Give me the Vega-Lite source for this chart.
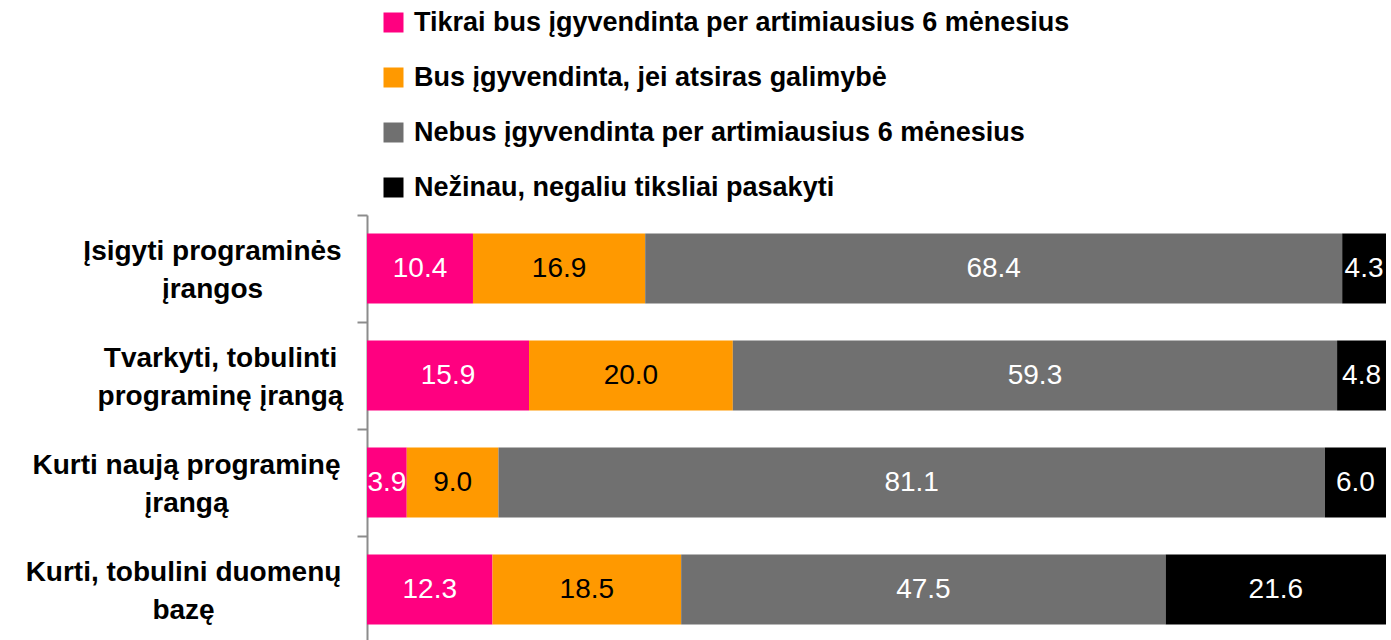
{
  "$schema": "https://vega.github.io/schema/vega-lite/v6.json",
  "autosize": {"type": "none"},
  "width": 1019,
  "height": 428,
  "padding": {"left": 367, "top": 215, "right": 5, "bottom": 0},
  "background": "white",
  "config": {"view": {"stroke": null}, "font": "Liberation Sans"},
  "data": {
    "values": [
      {"sritis": "Įsigyti programinės įrangos", "atsakymas": "Tikrai bus įgyvendinta per artimiausius 6 mėnesius", "nr": 1, "reiksme": 10.4},
      {"sritis": "Įsigyti programinės įrangos", "atsakymas": "Bus įgyvendinta, jei atsiras galimybė", "nr": 2, "reiksme": 16.9},
      {"sritis": "Įsigyti programinės įrangos", "atsakymas": "Nebus įgyvendinta per artimiausius 6 mėnesius", "nr": 3, "reiksme": 68.4},
      {"sritis": "Įsigyti programinės įrangos", "atsakymas": "Nežinau, negaliu tiksliai pasakyti", "nr": 4, "reiksme": 4.3},
      {"sritis": "Tvarkyti, tobulinti programinę įrangą", "atsakymas": "Tikrai bus įgyvendinta per artimiausius 6 mėnesius", "nr": 1, "reiksme": 15.9},
      {"sritis": "Tvarkyti, tobulinti programinę įrangą", "atsakymas": "Bus įgyvendinta, jei atsiras galimybė", "nr": 2, "reiksme": 20.0},
      {"sritis": "Tvarkyti, tobulinti programinę įrangą", "atsakymas": "Nebus įgyvendinta per artimiausius 6 mėnesius", "nr": 3, "reiksme": 59.3},
      {"sritis": "Tvarkyti, tobulinti programinę įrangą", "atsakymas": "Nežinau, negaliu tiksliai pasakyti", "nr": 4, "reiksme": 4.8},
      {"sritis": "Kurti naują programinę įrangą", "atsakymas": "Tikrai bus įgyvendinta per artimiausius 6 mėnesius", "nr": 1, "reiksme": 3.9},
      {"sritis": "Kurti naują programinę įrangą", "atsakymas": "Bus įgyvendinta, jei atsiras galimybė", "nr": 2, "reiksme": 9.0},
      {"sritis": "Kurti naują programinę įrangą", "atsakymas": "Nebus įgyvendinta per artimiausius 6 mėnesius", "nr": 3, "reiksme": 81.1},
      {"sritis": "Kurti naują programinę įrangą", "atsakymas": "Nežinau, negaliu tiksliai pasakyti", "nr": 4, "reiksme": 6.0},
      {"sritis": "Kurti, tobulini duomenų bazę", "atsakymas": "Tikrai bus įgyvendinta per artimiausius 6 mėnesius", "nr": 1, "reiksme": 12.3},
      {"sritis": "Kurti, tobulini duomenų bazę", "atsakymas": "Bus įgyvendinta, jei atsiras galimybė", "nr": 2, "reiksme": 18.5},
      {"sritis": "Kurti, tobulini duomenų bazę", "atsakymas": "Nebus įgyvendinta per artimiausius 6 mėnesius", "nr": 3, "reiksme": 47.5},
      {"sritis": "Kurti, tobulini duomenų bazę", "atsakymas": "Nežinau, negaliu tiksliai pasakyti", "nr": 4, "reiksme": 21.6}
    ]
  },
  "encoding": {
    "y": {
      "field": "sritis",
      "type": "nominal",
      "sort": ["Įsigyti programinės įrangos", "Tvarkyti, tobulinti programinę įrangą", "Kurti naują programinę įrangą", "Kurti, tobulini duomenų bazę"],
      "scale": {"paddingInner": 0.346, "paddingOuter": 0.173},
      "axis": {
        "title": null,
        "domainColor": "#8c8c8c",
        "domainWidth": 2,
        "tickColor": "#8c8c8c",
        "tickWidth": 2,
        "tickSize": 10,
        "tickOffset": -53.5,
        "labelOffset": 36,
        "labelFont": "Liberation Sans",
        "labelFontWeight": "bold",
        "labelFontSize": 28,
        "labelColor": "black",
        "labelAlign": "center",
        "labelBaseline": "middle",
        "labelLineHeight": 38,
        "labelLimit": 0,
        "labelPadding": {
          "condition": [
            {"test": "datum.value == 'Įsigyti programinės įrangos'", "value": 145},
            {"test": "datum.value == 'Tvarkyti, tobulinti programinę įrangą'", "value": 137},
            {"test": "datum.value == 'Kurti naują programinę įrangą'", "value": 171}
          ],
          "value": 174
        },
        "labelExpr": "datum.value == 'Įsigyti programinės įrangos' ? ['Įsigyti programinės', 'įrangos'] : datum.value == 'Tvarkyti, tobulinti programinę įrangą' ? ['Tvarkyti, tobulinti', 'programinę įrangą'] : datum.value == 'Kurti naują programinę įrangą' ? ['Kurti naują programinę', 'įrangą'] : ['Kurti, tobulini duomenų', 'bazę']"
      }
    }
  },
  "layer": [
    {
      "mark": {"type": "bar"},
      "encoding": {
        "x": {"field": "reiksme", "type": "quantitative", "stack": "normalize", "axis": null, "scale": {"domain": [0, 1]}},
        "color": {
          "field": "atsakymas",
          "type": "nominal",
          "scale": {
            "domain": ["Tikrai bus įgyvendinta per artimiausius 6 mėnesius", "Bus įgyvendinta, jei atsiras galimybė", "Nebus įgyvendinta per artimiausius 6 mėnesius", "Nežinau, negaliu tiksliai pasakyti"],
            "range": ["#FF0080", "#FF9900", "#707070", "#000000"]
          },
          "legend": {
            "orient": "none",
            "legendX": 13,
            "legendY": -206,
            "direction": "vertical",
            "title": null,
            "symbolType": "square",
            "symbolSize": 400,
            "symbolStrokeWidth": 0,
            "labelFont": "Liberation Sans",
            "labelFontWeight": "bold",
            "labelFontSize": 27,
            "labelColor": "black",
            "rowPadding": 27,
            "labelOffset": 7,
            "labelLimit": 0,
            "padding": 0
          }
        },
        "order": {"field": "nr", "type": "quantitative"}
      }
    },
    {
      "mark": {"type": "text", "fontSize": 28, "font": "Liberation Sans", "baseline": "middle", "align": "center"},
      "encoding": {
        "x": {"field": "reiksme", "type": "quantitative", "stack": "normalize", "bandPosition": 0.5},
        "detail": {"field": "atsakymas"},
        "order": {"field": "nr", "type": "quantitative"},
        "text": {"field": "reiksme", "type": "quantitative", "format": ".1f"},
        "color": {"condition": {"test": "datum.nr == 2", "value": "black"}, "value": "white"}
      }
    }
  ]
}
